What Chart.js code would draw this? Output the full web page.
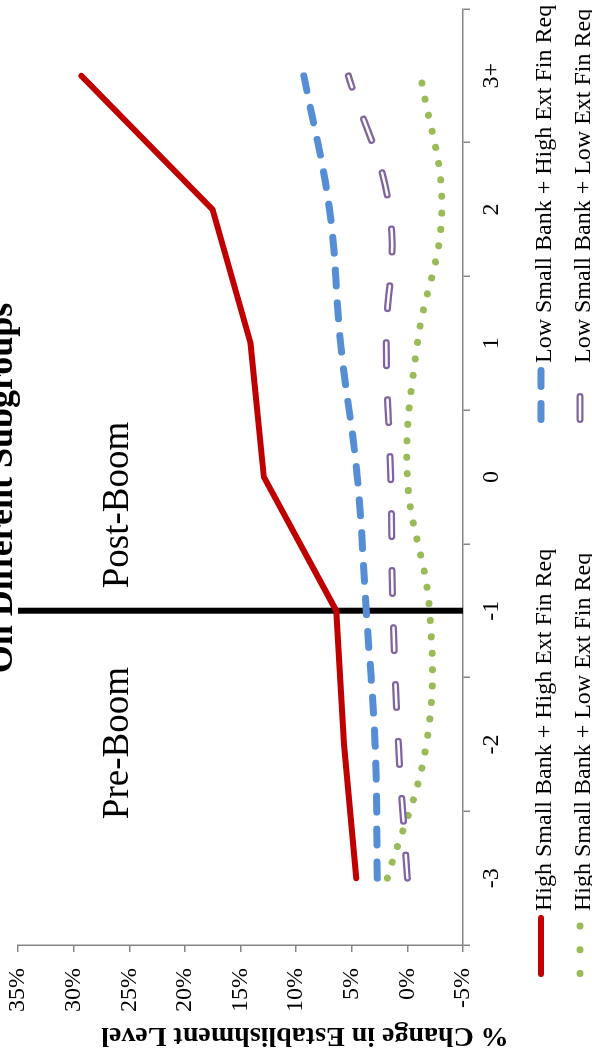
<!DOCTYPE html>
<html>
<head>
<meta charset="utf-8">
<script src="https://cdn.jsdelivr.net/npm/chart.js@4.4.1/dist/chart.umd.min.js"></script>
<style>
  html, body { margin: 0; padding: 0; background: #ffffff; width: 592px; height: 1053px; overflow: hidden; }
  /* the chart is laid out landscape and turned a quarter turn counter-clockwise */
  #frame { position: absolute; left: 0; top: 0; width: 1053px; height: 592px;
           transform-origin: 0 0; transform: translate(0, 1053px) rotate(-90deg); }
  canvas { display: block; }
</style>
</head>
<body>
<div id="frame"><canvas id="chart" width="1053" height="592"></canvas></div>
<script>
// Years relative to the boom
const categories = ['-3', '-2', '-1', '0', '1', '2', '3+'];

// % change in establishment level, by subgroup
const highBankHighFin = [4.6, 5.7, 6.4, 12.9, 14.1, 17.5, 29.3];
const lowBankHighFin  = [2.7, 2.9, 3.7, 4.5, 6.0, 7.0, 9.3];
const highBankLowFin  = [1.8, -1.7, -2.0, 0.0, -0.9, -3.1, -1.2];
const lowBankLowFin   = [0.0, 0.8, 1.3, 1.5, 1.9, 1.6, 5.3];

const seriesNames = [
  'High Small Bank + High Ext Fin Req',
  'Low Small Bank + High Ext Fin Req',
  'High Small Bank + Low Ext Fin Req',
  'Low Small Bank + Low Ext Fin Req'
];

const valueMin = -5;
const valueMax = 35;
const valueStep = 5;
const boomCategory = '-1';

const chartTitle = 'On Different Subgroups';
const valueAxisTitle = '% Change in Establishment Level';
const periodLabels = [
  { text: 'Pre-Boom',  at: 1.01, value: 25.1 },
  { text: 'Post-Boom', at: 2.79, value: 25.1 }
];

const SERIF = '"Liberation Serif", "Times New Roman", serif';
const AXIS_GREY = '#868686';

// vertical marker at the start of the boom
const boomLine = {
  id: 'boomLine',
  beforeDatasetsDraw(chart) {
    const { ctx, chartArea, scales } = chart;
    const x = scales.x.getPixelForValue(categories.indexOf(boomCategory));
    ctx.save();
    ctx.strokeStyle = '#000000';
    ctx.lineWidth = 6;
    ctx.beginPath();
    ctx.moveTo(x, chartArea.top);
    ctx.lineTo(x, chartArea.bottom);
    ctx.stroke();
    ctx.restore();
  }
};

// chart title, value-axis title, period labels and the legend
const decorations = {
  id: 'decorations',
  afterDraw(chart) {
    const { ctx, scales } = chart;
    ctx.save();
    ctx.fillStyle = '#000000';

    ctx.font = 'bold 36px ' + SERIF;
    ctx.textAlign = 'center';
    ctx.textBaseline = 'alphabetic';
    ctx.fillText(chartTitle, 565, 12);

    ctx.save();
    ctx.translate(18, 305);
    ctx.rotate(-Math.PI / 2);
    ctx.font = 'bold 28px ' + SERIF;
    ctx.textAlign = 'center';
    ctx.textBaseline = 'middle';
    ctx.fillText(valueAxisTitle, 0, 0);
    ctx.restore();

    ctx.font = '37px ' + SERIF;
    ctx.textAlign = 'center';
    ctx.textBaseline = 'alphabetic';
    periodLabels.forEach(p => {
      ctx.fillText(p.text, scales.x.getPixelForValue(p.at), scales.y.getPixelForValue(p.value));
    });

    // legend: two columns, two rows
    const colSample = [76, 630];
    const colText = [142, 690];
    const rowSample = [541, 580];
    const rowText = [551, 590];
    const sampleLen = 56;
    const entries = chart.data.datasets.filter(d => d.legendIndex !== undefined);
    entries.forEach(ds => {
      const i = ds.legendIndex;
      const col = i % 2, row = Math.floor(i / 2);
      const x0 = colSample[col], y = rowSample[row];
      const len = ds.legendLength || sampleLen;
      const cap = ds.borderWidth / 2;
      const strokes = [{ color: ds.borderColor, width: ds.borderWidth }];
      if (ds.innerColor) strokes.push({ color: ds.innerColor, width: ds.innerWidth });
      strokes.forEach(s => {
        ctx.save();
        ctx.strokeStyle = s.color;
        ctx.lineWidth = s.width;
        ctx.lineCap = 'round';
        ctx.setLineDash(ds.legendDash || ds.borderDash || []);
        ctx.beginPath();
        ctx.moveTo(x0 + cap, y);
        ctx.lineTo(x0 + len - cap, y);
        ctx.stroke();
        ctx.restore();
      });
      ctx.font = '24px ' + SERIF;
      ctx.textAlign = 'left';
      ctx.textBaseline = 'alphabetic';
      ctx.fillText(seriesNames[i], colText[col], rowText[row]);
    });
    ctx.restore();
  }
};

const purpleDash = [23, 34];

new Chart(document.getElementById('chart'), {
  type: 'line',
  data: {
    labels: categories,
    datasets: [
      {
        label: seriesNames[0], legendIndex: 0, legendLength: 62,
        data: highBankHighFin,
        borderColor: '#C00000', borderWidth: 6,
        borderCapStyle: 'round', borderJoinStyle: 'miter',
        tension: 0, pointRadius: 0, fill: false, order: 2
      },
      {
        label: seriesNames[1], legendIndex: 1,
        data: lowBankHighFin,
        borderColor: '#558ED5', borderWidth: 7, borderDash: [16, 17],
        borderCapStyle: 'round', tension: 0.4, pointRadius: 0, fill: false, order: 3
      },
      {
        label: seriesNames[2], legendIndex: 2, legendLength: 75, legendDash: [0.1, 23.6],
        data: highBankLowFin,
        borderColor: '#9BBB59', borderWidth: 7, borderDash: [0.1, 16.4],
        borderCapStyle: 'round', tension: 0.4, pointRadius: 0, fill: false, order: 4
      },
      {
        label: seriesNames[3], legendIndex: 3, innerColor: '#FFFFFF', innerWidth: 2.5,
        data: lowBankLowFin,
        borderColor: '#8064A2', borderWidth: 7, borderDash: purpleDash,
        borderCapStyle: 'round', tension: 0.4, pointRadius: 0, fill: false, order: 1
      },
      {
        // hollow centre of the double-stroked series
        label: '',
        data: lowBankLowFin,
        borderColor: '#FFFFFF', borderWidth: 2.5, borderDash: purpleDash,
        borderCapStyle: 'round', tension: 0.4, pointRadius: 0, fill: false, order: 0
      }
    ]
  },
  options: {
    responsive: false,
    animation: false,
    devicePixelRatio: 1,
    layout: { padding: { top: 18, right: 9, bottom: 80, left: 0 } },
    plugins: { legend: { display: false }, tooltip: { enabled: false }, title: { display: false } },
    scales: {
      x: {
        type: 'category',
        offset: true,
        grid: { display: true, drawOnChartArea: false, offset: true, tickLength: 7, color: AXIS_GREY, lineWidth: 1.5 },
        border: { display: true, color: AXIS_GREY, width: 1.5 },
        ticks: { color: '#000000', font: { family: SERIF, size: 24 }, padding: 7, maxRotation: 0, autoSkip: false },
        afterFit(scale) {
          scale.height = 49;
          scale.paddingLeft = 0;
          scale.paddingRight = 0;
        }
      },
      y: {
        min: valueMin,
        max: valueMax,
        grid: { display: true, drawOnChartArea: false, tickLength: 7, color: AXIS_GREY, lineWidth: 1.5 },
        border: { display: true, color: AXIS_GREY, width: 1.5 },
        ticks: {
          stepSize: valueStep,
          color: '#000000',
          font: { family: SERIF, size: 24 },
          padding: 16,
          callback: v => v + '%'
        },
        afterFit(scale) {
          scale.width = 108;
          scale.paddingTop = 0;
          scale.paddingBottom = 0;
        }
      }
    }
  },
  plugins: [boomLine, decorations]
});
</script>
</body>
</html>
